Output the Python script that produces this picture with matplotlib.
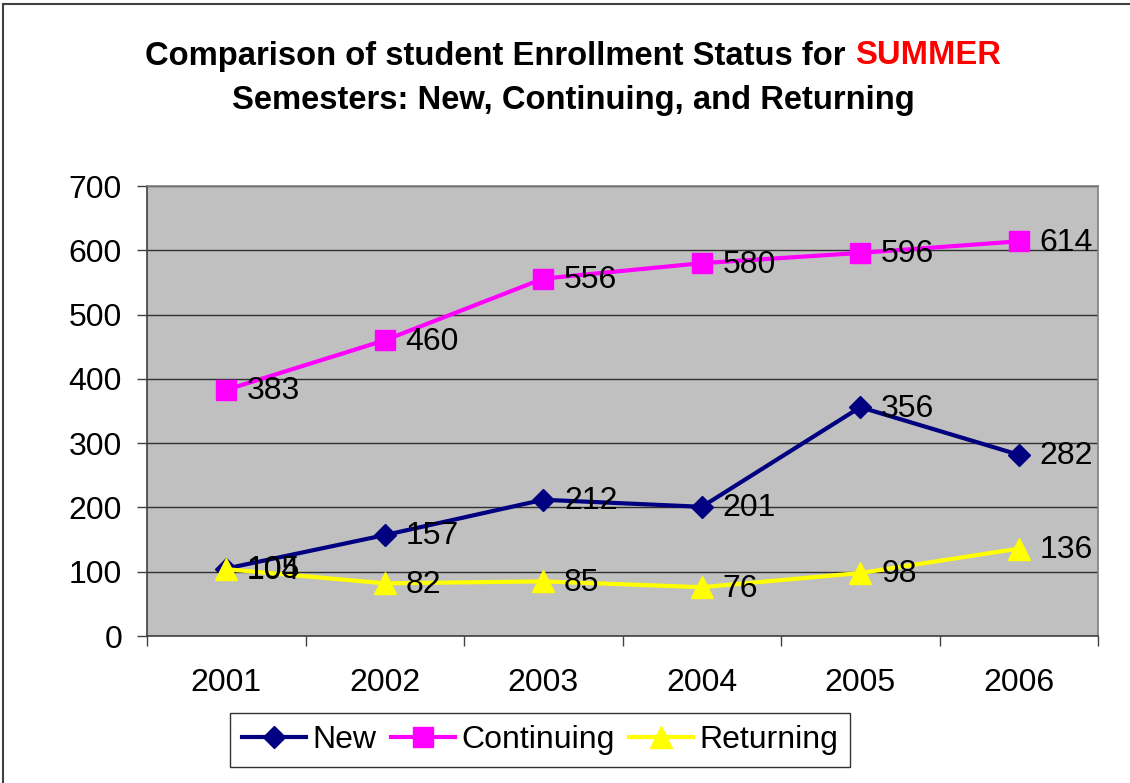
import matplotlib.pyplot as plt
from matplotlib.patches import Rectangle

plt.rcParams['font.family'] = ['Liberation Sans', 'DejaVu Sans']

years = ['2001', '2002', '2003', '2004', '2005', '2006']
new = [105, 157, 212, 201, 356, 282]
continuing = [383, 460, 556, 580, 596, 614]
returning = [104, 82, 85, 76, 98, 136]

fig = plt.figure(figsize=(11.3, 7.83), dpi=100)
ax = fig.add_axes([0.1301, 0.1877, 0.8416, 0.5747])
ax.set_facecolor('#C0C0C0')

x = list(range(len(years)))
series = [
    ('New', new, '#000080', 'D', 11),
    ('Continuing', continuing, '#FF00FF', 's', 14.5),
    ('Returning', returning, '#FFFF00', '^', 16),
]
for name, vals, color, marker, ms in series:
    ax.plot(x, vals, color=color, lw=3, marker=marker, markersize=ms,
            markerfacecolor=color, markeredgecolor=color, label=name, zorder=3)
    for xi, v in zip(x, vals):
        ax.annotate(str(v), (xi, v), xytext=(15, -1), textcoords='offset points',
                    ha='left', va='center', fontsize=23, color='black', zorder=4)

ax.set_xlim(-0.5, len(years) - 0.5)
ax.set_ylim(0, 700)
ax.set_yticks(range(0, 701, 100))
ax.tick_params(axis='y', labelsize=23, length=7, width=1, pad=11, color='#404040')
ax.set_xticks(x)
ax.set_xticklabels(years)
ax.set_xticks([i - 0.5 for i in range(len(years) + 1)], minor=True)
ax.tick_params(axis='x', which='major', length=0, labelsize=23, pad=23)
ax.tick_params(axis='x', which='minor', length=7, width=1, color='#404040')
ax.grid(axis='y', color='#303030', lw=1, zorder=1)
ax.set_axisbelow(True)
for side in ['left', 'bottom']:
    ax.spines[side].set_color('#404040')
    ax.spines[side].set_linewidth(1.2)
for side in ['top', 'right']:
    ax.spines[side].set_color('#808080')
    ax.spines[side].set_linewidth(1.2)

leg = fig.legend(loc='center', bbox_to_anchor=(0.478, 0.0545), ncol=3, fontsize=23,
                 frameon=True, fancybox=False, handlelength=2.0, handletextpad=0.2,
                 columnspacing=0.45, borderpad=0.38, borderaxespad=0)
leg.get_frame().set_edgecolor('black')
leg.get_frame().set_linewidth(1)

# title, first line has a red word
fig.canvas.draw()
r = fig.canvas.get_renderer()
tkw = dict(fontsize=23.6, fontweight='bold', va='center')
t1 = fig.text(0, 0, 'Comparison of student Enrollment Status for ', **tkw)
t2 = fig.text(0, 0, 'SUMMER', color='#FF0000', **tkw)
w1 = t1.get_window_extent(r).width
w2 = t2.get_window_extent(r).width
cx = 0.507 * 1130
y1 = 1 - 56 / 783
start = cx - (w1 + w2) / 2
t1.set_position((start / 1130, y1))
t2.set_position(((start + w1) / 1130, y1))
fig.text(0.507, 1 - 100 / 783, 'Semesters: New, Continuing, and Returning', ha='center', **tkw)

fig.patches.append(Rectangle((3 / 1130, -0.1), 1.2, 1 - 4 / 783 + 0.1, transform=fig.transFigure,
                             fill=False, edgecolor='#404040', lw=1.5))

fig.savefig('out.png', dpi=100)
